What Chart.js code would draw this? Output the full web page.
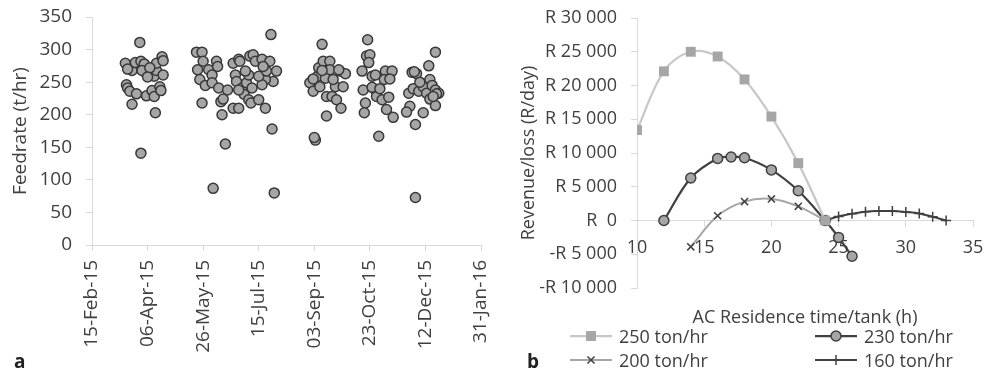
<!DOCTYPE html>
<html>
<head>
<meta charset="utf-8">
<script src="https://cdn.jsdelivr.net/npm/chart.js@4"></script>
<style>
  body { margin: 0; background: #fff; font-family: 'Open Sans', sans-serif; color: #404040; }
  #wrap { position: relative; width: 984px; height: 373px; overflow: hidden; }
  #wrap > canvas { position: absolute; top: 0; }
  #feedChart { left: 0; }
  #revChart { left: 490px; }
  .panel { position: absolute; font-weight: bold; font-size: 19px; color: #222; line-height: 1; }
  .legend-item { position: absolute; display: flex; align-items: center; font-size: 18px; height: 24px; white-space: nowrap; }
  .legend-item canvas { margin-right: 7px; }
</style>
</head>
<body>
<div id="wrap">
  <canvas id="feedChart" width="500" height="373"></canvas>
  <canvas id="revChart" width="494" height="373"></canvas>
  <div class="panel" style="left:14px; top:352px;">a</div>
  <div class="panel" style="left:527px; top:352px;">b</div>
  <div id="legend"></div>
</div>
<script>
// ---- chart a: feed rate per day ----
const feedDates = [
  '2015-03-30','2015-03-17','2015-03-23','2015-03-26','2015-03-31','2015-04-03','2015-04-05','2015-04-01',
  '2015-03-18','2015-03-19','2015-03-21','2015-03-27','2015-03-23','2015-04-05','2015-04-10','2015-04-12',
  '2015-04-17','2015-04-18','2015-04-13','2015-04-12','2015-04-14','2015-04-14','2015-04-19','2015-04-20',
  '2015-04-20','2015-03-31','2015-03-19','2015-04-08','2015-04-06',
  '2015-05-20','2015-05-25','2015-05-26','2015-05-21','2015-05-23','2015-05-28','2015-05-25','2015-05-31',
  '2015-06-03','2015-06-07','2015-06-08','2015-06-03','2015-06-09','2015-06-11','2015-06-13','2015-06-12',
  '2015-06-17','2015-06-15','2015-06-04','2015-06-22','2015-06-27','2015-06-28','2015-06-24','2015-06-25',
  '2015-06-22','2015-06-27','2015-06-30','2015-07-02','2015-07-06','2015-07-04','2015-07-06','2015-07-07',
  '2015-07-03','2015-06-27','2015-07-10','2015-07-12','2015-07-18','2015-07-25','2015-07-31','2015-07-28',
  '2015-07-21','2015-07-18','2015-07-15','2015-07-09','2015-07-08','2015-07-15','2015-07-21','2015-07-22',
  '2015-07-19','2015-07-26','2015-07-27','2015-07-29',
  '2015-09-10','2015-09-04','2015-09-03','2015-09-14','2015-08-30','2015-09-02','2015-09-06','2015-09-07',
  '2015-09-11','2015-09-17','2015-09-17','2015-09-13','2015-09-08','2015-09-14','2015-09-19','2015-09-23',
  '2015-09-27','2015-09-22','2015-09-26','2015-10-01','2015-09-29','2015-09-25','2015-09-20','2015-09-02',
  '2015-09-10',
  '2015-10-21','2015-10-20','2015-10-23','2015-10-22','2015-10-16','2015-10-25','2015-10-28','2015-11-06',
  '2015-11-12','2015-11-05','2015-11-10','2015-10-17','2015-10-28','2015-10-29','2015-11-03','2015-11-09',
  '2015-10-19','2015-11-07','2015-10-18','2015-11-13','2015-10-31','2015-10-25','2015-11-01',
  '2015-12-21','2015-12-15','2015-11-30','2015-12-04','2015-12-16','2015-11-27','2015-12-01','2015-12-06',
  '2015-12-10','2015-12-13','2015-12-18','2015-12-21','2015-12-24','2015-12-16','2015-12-21','2015-12-10',
  '2015-11-28','2015-11-25','2015-12-03','2015-12-03','2015-12-22','2015-12-19','2015-12-02','2015-12-07'
];
const feedRates = [
  311, 279, 268, 280, 282, 278, 263, 268,
  246, 241, 236, 232, 216, 229, 237, 228,
  243, 237, 203, 259, 268, 279, 289, 283,
  261, 141, 270, 272, 258,
  296, 296, 282, 269, 254, 245, 218, 269,
  261, 282, 274, 249, 241, 220, 224, 200,
  238, 155, 87, 279, 285, 282, 261, 251,
  210, 210, 241, 231, 223, 249, 261, 290,
  267, 238, 292, 282, 285, 282, 267, 251,
  254, 246, 259, 241, 218, 223, 210, 267,
  274, 323, 178, 80,
  308, 161, 165, 198, 249, 236, 259, 272,
  282, 282, 269, 256, 243, 228, 228, 223,
  210, 243, 267, 263, 243, 269, 254, 255,
  268,
  315, 290, 292, 280, 267, 259, 261, 267,
  267, 254, 255, 238, 238, 228, 223, 227,
  218, 208, 203, 196, 167, 242, 240,
  296, 275, 265, 263, 254, 233, 240, 236,
  243, 233, 245, 238, 233, 224, 214, 203,
  213, 204, 185, 73, 232, 228, 266, 250
];
const dateTickStart = '2015-02-15';
const dateTickEnd = '2016-01-31';
const dateTickStep = 50; // days

// ---- chart b: revenue vs residence time ----
const time250 = [10, 12, 14, 16, 18, 20, 22, 24];
const rev250 = [13400, 22100, 25000, 24300, 20900, 15400, 8500, 0];
const time230 = [12, 14, 16, 17, 18, 20, 22, 24, 25, 26];
const rev230 = [0, 6300, 9200, 9400, 9300, 7500, 4400, 0, -2500, -5300];
const time200 = [14, 16, 18, 20, 22, 24];
const rev200 = [-3900, 700, 2800, 3200, 2100, 0];
const time160 = [24, 25, 26, 27, 28, 29, 30, 31, 32, 33];
const rev160 = [0, 600, 1000, 1300, 1400, 1400, 1250, 1050, 550, 0];
const seriesNames = ['250 ton/hr', '230 ton/hr', '200 ton/hr', '160 ton/hr'];

const TXT = '#404040';
const AXIS = '#d9d9d9';
const MONTHS = ['Jan','Feb','Mar','Apr','May','Jun','Jul','Aug','Sep','Oct','Nov','Dec'];

Chart.defaults.font.family = "'Open Sans', sans-serif";
Chart.defaults.color = TXT;

function toSerial(iso) {
  const [y, m, d] = iso.split('-').map(Number);
  return Date.UTC(y, m - 1, d) / 86400000 + 25569;
}
function serialLabel(v) {
  const d = new Date((v - 25569) * 86400000);
  return String(d.getUTCDate()).padStart(2, '0') + '-' + MONTHS[d.getUTCMonth()] + '-' + String(d.getUTCFullYear()).slice(2);
}
function rand(v) {
  if (v === 0) return 'R  0';
  const s = Math.abs(v).toString().replace(/\B(?=(\d{3})+(?!\d))/g, ' ');
  return (v < 0 ? '-' : '') + 'R ' + s;
}
const pairs = (xs, ys) => xs.map((x, i) => ({ x, y: ys[i] }));

// fixed axis sizes, label overhang is covered by layout.padding instead
function fixSize(w, h) {
  return s => {
    if (w !== null) s.width = w;
    if (h !== null) s.height = h;
    s.paddingLeft = s.paddingRight = s.paddingTop = s.paddingBottom = 0;
  };
}

new Chart(document.getElementById('feedChart'), {
  type: 'scatter',
  data: {
    datasets: [{
      data: feedDates.map((d, i) => ({ x: toSerial(d), y: feedRates[i] })),
      pointRadius: 5,
      pointHoverRadius: 5,
      backgroundColor: '#a6a6a6',
      borderColor: '#383838',
      borderWidth: 1.5
    }]
  },
  options: {
    responsive: false,
    animation: false,
    layout: { padding: { left: 0, right: 19, top: 17, bottom: 0 } },
    plugins: { legend: { display: false }, tooltip: { enabled: false } },
    scales: {
      x: {
        type: 'linear',
        min: toSerial(dateTickStart),
        max: toSerial(dateTickEnd),
        ticks: { stepSize: dateTickStep, minRotation: 90, maxRotation: 90, padding: 9, font: { size: 19 }, callback: serialLabel },
        grid: { drawOnChartArea: false, tickLength: 6, color: AXIS },
        border: { color: AXIS },
        afterFit: fixSize(null, 128)
      },
      y: {
        min: 0,
        max: 350,
        ticks: { stepSize: 50, padding: 14, font: { size: 19 } },
        grid: { drawOnChartArea: false, tickLength: 6, color: AXIS },
        border: { color: AXIS },
        title: { display: true, text: 'Feedrate (t/hr)', font: { size: 19 }, padding: { top: 9, bottom: 0 } },
        afterFit: fixSize(92, null)
      }
    }
  }
});

const styles = [
  { line: '#c8c8c8', width: 2.25, point: 'rect', radius: 7, fill: '#a6a6a6', stroke: '#a6a6a6', pw: 0 },
  { line: '#404040', width: 2.25, point: 'circle', radius: 5, fill: '#a6a6a6', stroke: '#404040', pw: 1.5 },
  { line: '#a6a6a6', width: 2, point: 'crossRot', radius: 5, fill: '#404040', stroke: '#404040', pw: 1.5 },
  { line: '#404040', width: 2, point: 'cross', radius: 5, fill: '#404040', stroke: '#404040', pw: 1.5 }
];
const revSeries = [pairs(time250, rev250), pairs(time230, rev230), pairs(time200, rev200), pairs(time160, rev160)];

new Chart(document.getElementById('revChart'), {
  type: 'line',
  data: {
    datasets: revSeries.map((data, i) => ({
      label: seriesNames[i],
      data,
      borderColor: styles[i].line,
      borderWidth: styles[i].width,
      tension: 0.35,
      pointStyle: styles[i].point,
      pointRadius: styles[i].radius,
      pointHoverRadius: styles[i].radius,
      pointBackgroundColor: styles[i].fill,
      pointBorderColor: styles[i].stroke,
      pointBorderWidth: styles[i].pw
    }))
  },
  options: {
    responsive: false,
    animation: false,
    layout: { padding: { left: 0, right: 11, top: 18, bottom: 0 } },
    plugins: { legend: { display: false }, tooltip: { enabled: false } },
    scales: {
      x: {
        type: 'linear',
        position: { y: 0 },
        min: 10,
        max: 35,
        ticks: { stepSize: 5, padding: 11, font: { size: 18 }, maxRotation: 0 },
        grid: { drawOnChartArea: false, tickLength: 6, color: AXIS },
        border: { color: AXIS },
        afterFit: fixSize(null, 0)
      },
      xTitle: {
        type: 'linear',
        position: 'bottom',
        min: 10,
        max: 35,
        ticks: { display: false },
        grid: { display: false },
        border: { display: false },
        title: { display: true, text: 'AC Residence time/tank (h)', font: { size: 18 }, padding: { top: 0, bottom: 44 } },
        afterFit: fixSize(null, 85)
      },
      y: {
        min: -10000,
        max: 30000,
        ticks: { stepSize: 5000, padding: 14, font: { size: 18 }, callback: v => rand(v) },
        grid: { drawOnChartArea: false, tickLength: 6, color: AXIS },
        border: { color: AXIS },
        title: { display: true, text: 'Revenue/loss (R/day)', font: { size: 18 }, padding: { top: 28, bottom: 0 } },
        afterFit: fixSize(147, null)
      }
    }
  }
});

// legend laid out in two columns like the original
const legendPos = [[570, 324], [815, 324], [570, 348], [815, 348]];
const legend = document.getElementById('legend');
seriesNames.forEach((name, i) => {
  const st = styles[i];
  const item = document.createElement('div');
  item.className = 'legend-item';
  item.style.left = legendPos[i][0] + 'px';
  item.style.top = legendPos[i][1] + 'px';
  const c = document.createElement('canvas');
  c.width = 42; c.height = 16;
  const ctx = c.getContext('2d');
  ctx.strokeStyle = st.line;
  ctx.lineWidth = st.width;
  ctx.beginPath(); ctx.moveTo(0, 8); ctx.lineTo(42, 8); ctx.stroke();
  ctx.fillStyle = st.fill;
  ctx.strokeStyle = st.stroke;
  ctx.lineWidth = 1.5;
  Chart.helpers.drawPoint(ctx, { pointStyle: st.point, radius: st.radius, borderWidth: st.pw }, 21, 8);
  item.appendChild(c);
  const t = document.createElement('span');
  t.textContent = name;
  item.appendChild(t);
  legend.appendChild(item);
});
</script>
</body>
</html>
